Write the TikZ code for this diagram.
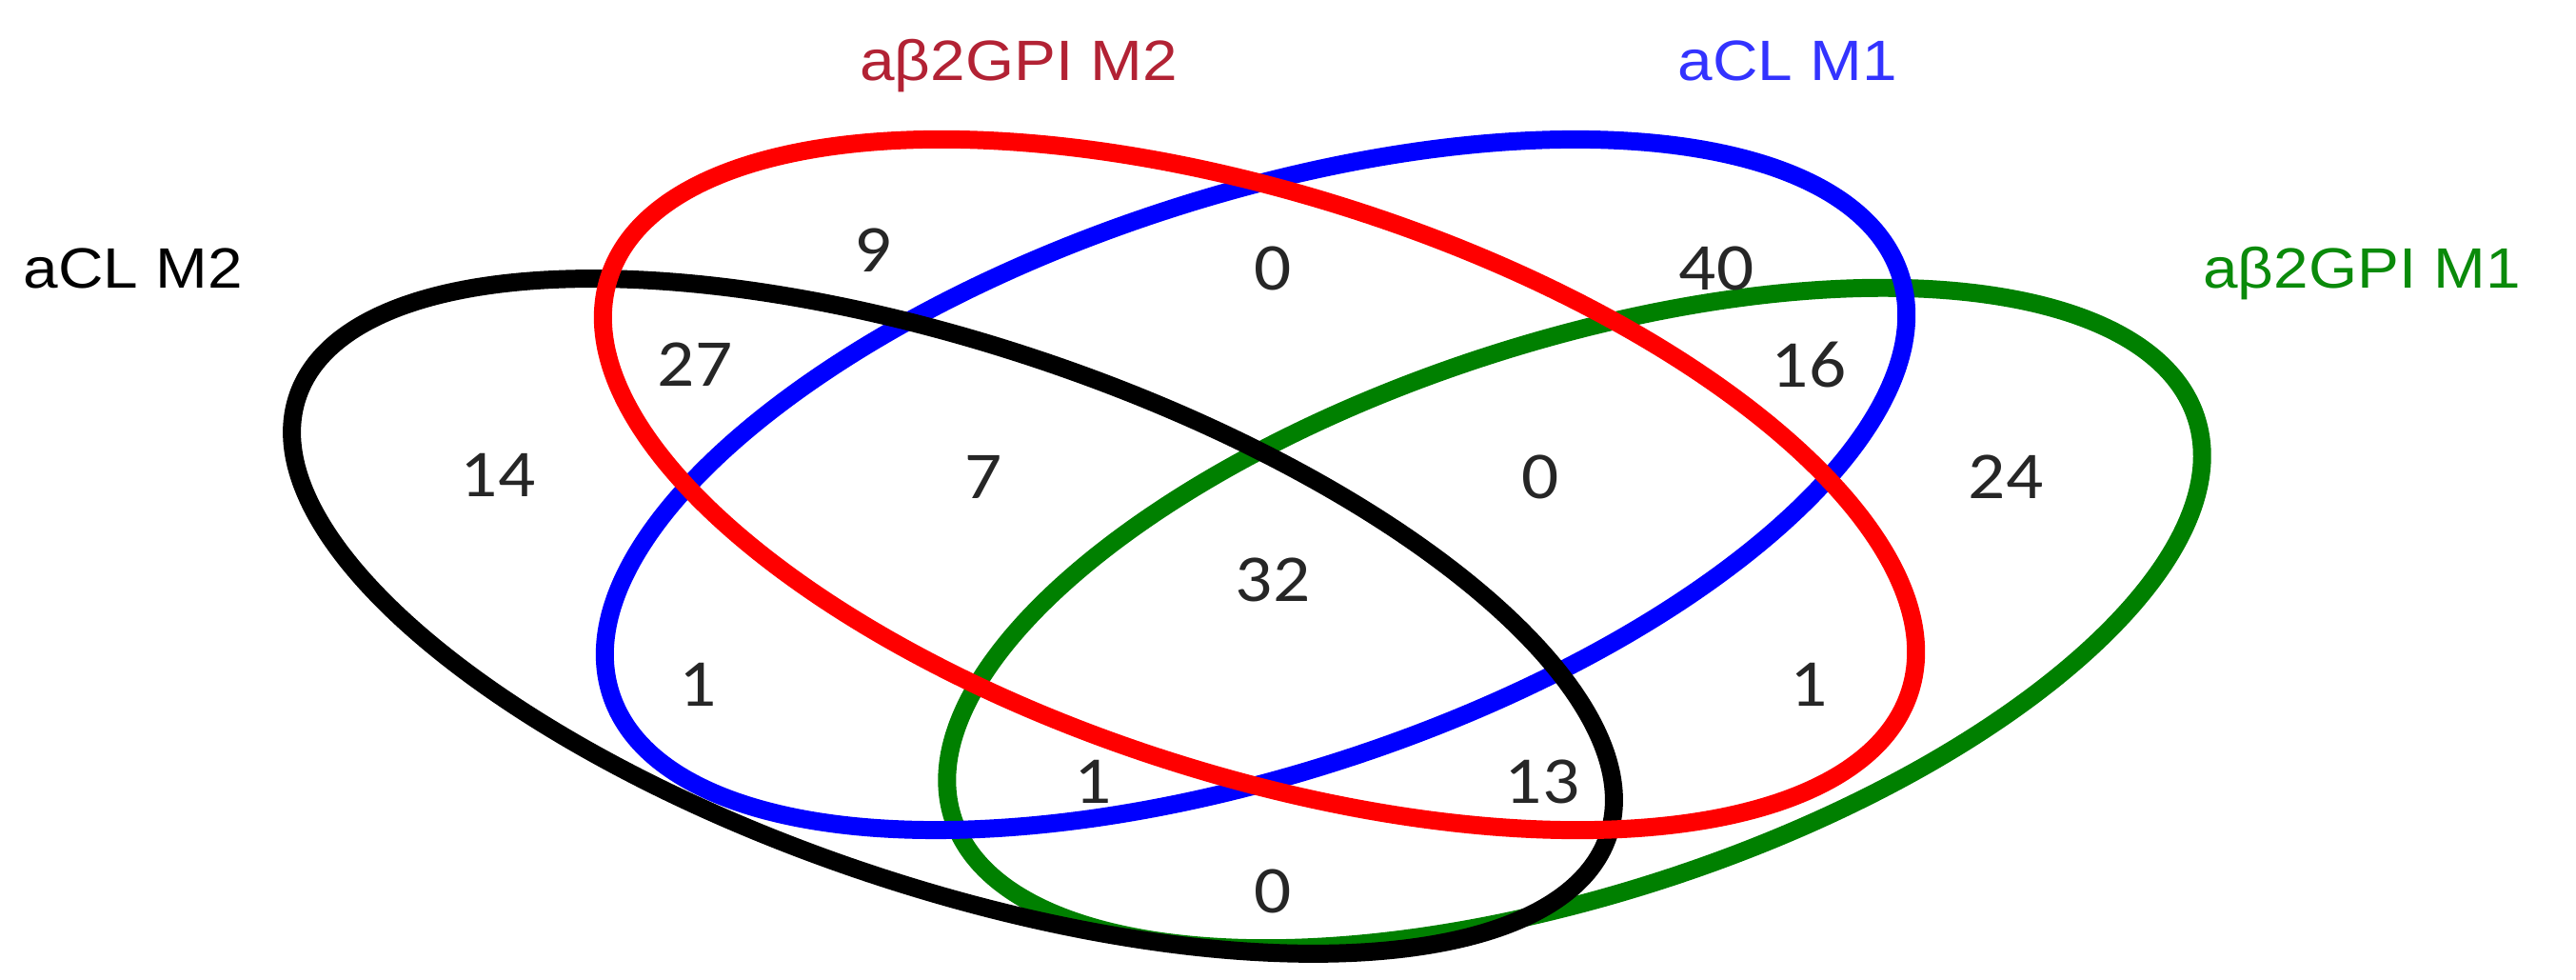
\documentclass[tikz,border=0pt]{standalone}
\usepackage{fontspec}
\setmainfont{Liberation Sans}
\newfontfamily\countfont{Carlito}
\definecolor{setblack}{HTML}{000000}
\definecolor{setred}{HTML}{FF0000}
\definecolor{setblue}{HTML}{0000FF}
\definecolor{setgreen}{HTML}{008000}
\definecolor{txtred}{HTML}{B22234}
\definecolor{txtblue}{HTML}{3333FF}
\definecolor{txtgreen}{HTML}{0A8A0A}
\definecolor{txtcount}{HTML}{262626}
\newcommand{\widetext}[1]{\scalebox{1.1}[1]{#1}}

\begin{document}
\begin{tikzpicture}[
    venn/.style={line width=5.4pt},
    setlabel/.style={anchor=base, font=\fontsize{17}{20}\selectfont},
    cellnum/.style={text=txtcount, font=\countfont\fontsize{20}{23}\selectfont}]
  \useasboundingbox (0,0) rectangle (27.06,10.29);
  % the four sets, bottom layer first
  \draw[venn, setgreen, shift={(16.54,3.80)}, rotate=17.8] (0,0) ellipse (6.86 and 2.90);
  \draw[venn, setblue, shift={(13.19,5.20)}, rotate=18] (0,0) ellipse (7.12 and 3.03);
  \draw[venn, setblack, shift={(10.01,3.82)}, rotate=-18.5] (0,0) ellipse (7.26 and 2.84);
  \draw[venn, setred, shift={(13.23,5.20)}, rotate=-17.6] (0,0) ellipse (7.17 and 3.05);
  % set names
  \node[setlabel, text=setblack] (aclm2) at (1.40,7.26) {\widetext{aCL M2}};
  \node[setlabel, text=txtred] (gpim2) at (10.70,9.44) {\widetext{aβ2GPI M2}};
  \node[setlabel, text=txtblue] (aclm1) at (18.78,9.44) {\widetext{aCL M1}};
  \node[setlabel, text=txtgreen] (gpim1) at (24.81,7.26) {\widetext{aβ2GPI M1}};
  % counts
  \foreach \x/\y/\n [count=\k] in {9.17/7.66/9, 13.37/7.47/0, 18.03/7.47/40,
                                   7.30/6.46/27, 19.00/6.46/16,
                                   5.23/5.30/14, 10.33/5.28/7, 16.18/5.28/0, 21.07/5.28/24,
                                   13.37/4.20/32, 7.33/3.10/1, 19.00/3.10/1,
                                   11.48/2.08/1, 16.20/2.08/13, 13.37/0.93/0} {
    \node[cellnum] (cell\k) at (\x,\y) {\widetext{\n}};
  }
\end{tikzpicture}
\end{document}
